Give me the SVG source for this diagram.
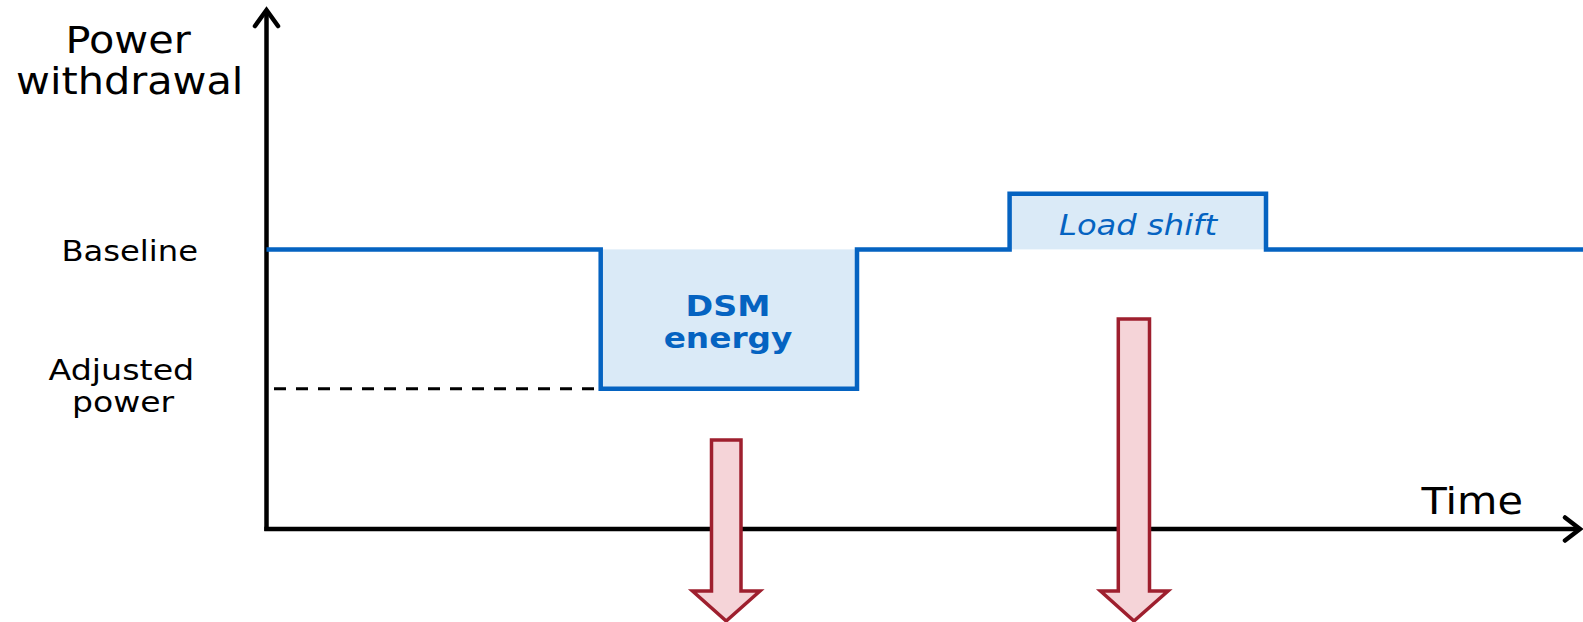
<svg xmlns="http://www.w3.org/2000/svg" width="1583" height="622" viewBox="0 0 1583 622">
<style>
.lbl{font-family:"DejaVu Sans",Verdana,sans-serif;fill:#000}
.axis{stroke:#000;stroke-width:4.5;fill:none}
.head{stroke:#000;stroke-width:4.5;fill:none;stroke-linejoin:miter;stroke-linecap:round}
.area{fill:#DAEAF7;stroke:none}
.curve{stroke:#0563C1;stroke-width:4.5;fill:none;stroke-linejoin:miter}
.red{fill:#F5D4D8;stroke:#9E1F2E;stroke-width:3.5;stroke-linejoin:miter}
.blue{font-family:"DejaVu Sans",Verdana,sans-serif;fill:#0563C1}
</style>
<rect width="1583" height="622" fill="#fff"/>
<g id="areas">
<rect id="dsm-area" class="area" x="600.7" y="249.4" width="256.3" height="139.3"/>
<rect id="shift-area" class="area" x="1009.6" y="193.8" width="256.4" height="55.6"/>
</g>
<g id="connectors">
<line class="axis" x1="266.5" y1="12" x2="266.5" y2="531"/>
<polyline class="head" points="255,26 266.5,10 278,26"/>
<line class="axis" x1="264.3" y1="529" x2="1578" y2="529"/>
<polyline class="head" points="1565,517.5 1580,529 1565,540.5"/>
<line x1="274" y1="388.7" x2="600" y2="388.7" stroke="#000" stroke-width="3" stroke-dasharray="12 10"/>
<path class="curve" d="M266.5 249.4 H600.7 V388.7 H857 V249.4 H1009.6 V193.8 H1266 V249.4 H1583"/>
</g>
<g id="arrow-dsm">
<polygon class="red" points="711.5,440 741,440 741,591 760,591 726.2,621 692.5,591 711.5,591"/>
</g>
<g id="arrow-shift">
<polygon class="red" points="1118.3,319 1149.5,319 1149.5,591 1168,591 1134,621 1100.5,591 1118.3,591"/>
</g>
<g id="y-label">
<text class="lbl" transform="translate(65.5,53) scale(1.12,1)" font-size="37">Power</text>
<text class="lbl" transform="translate(16,94) scale(1.12,1)" font-size="37">withdrawal</text>
</g>
<g id="x-label">
<text class="lbl" transform="translate(1421.5,514) scale(1.12,1)" font-size="37">Time</text>
</g>
<g id="baseline-label">
<text class="lbl" transform="translate(61.5,261) scale(1.15,1)" font-size="28">Baseline</text>
</g>
<g id="adjusted-label">
<text class="lbl" transform="translate(48.5,380) scale(1.19,1)" font-size="28">Adjusted</text>
<text class="lbl" transform="translate(72,412) scale(1.18,1)" font-size="28">power</text>
</g>
<g id="dsm-energy">
<text class="blue" transform="translate(728,316) scale(1.15,1)" font-size="29" font-weight="bold" text-anchor="middle">DSM</text>
<text class="blue" transform="translate(728,348) scale(1.13,1)" font-size="29" font-weight="bold" text-anchor="middle">energy</text>
</g>
<g id="load-shift">
<text class="blue" transform="translate(1138,235) scale(1.15,1)" font-size="28" font-style="italic" text-anchor="middle">Load shift</text>
</g>
</svg>
